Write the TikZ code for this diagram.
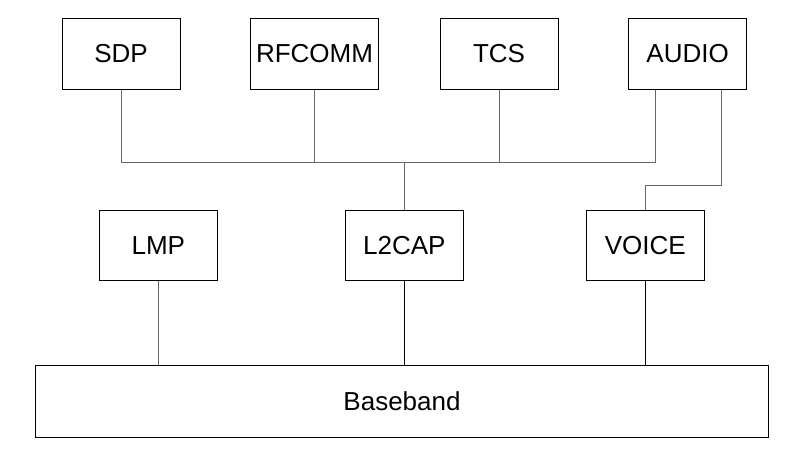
\documentclass[tikz,border=0pt]{standalone}
\usepackage{fontspec}
\setmainfont{Liberation Sans}
\usetikzlibrary{calc}
\tikzset{
  layer/.style={draw,line width=1pt,rectangle,inner sep=0pt,
    minimum width=118pt,minimum height=70.5pt,
    font=\fontsize{26}{30}\selectfont},
  wire/.style={draw=black!60,line width=1pt},
  link/.style={draw=black,line width=1pt}
}

\begin{document}
\begin{tikzpicture}[x=1pt,y=-1pt]
    \useasboundingbox (0,0) rectangle (809,470);
    % Upper layers
    \node[layer] (sdp)    at (121,53.8)   {SDP};
    \node[layer,minimum width=128pt] (rfcomm) at (314.5,53.8) {RFCOMM};
    \node[layer] (tcs)    at (499,53.8)   {TCS};
    \node[layer] (audio)  at (687.6,53.8) {AUDIO};
    % Middle layers
    \node[layer] (lmp)    at (158.3,245.7) {LMP};
    \node[layer] (ltcap)  at (404.3,245.7) {L2CAP};
    \node[layer] (voice)  at (645.3,245.7) {VOICE};
    % Baseband
    \node[layer,minimum width=733.4pt,minimum height=71.3pt]
      (base) at (402,401.6) {Baseband};
    % Bus
    \coordinate (hub)  at (404.3,162.7);
    \coordinate (bend) at (645.3,186);
    \draw[wire] (sdp.south) |- (hub) -- (ltcap.north);
    \draw[wire] (rfcomm.south) -- (rfcomm.south |- hub);
    \draw[wire] (tcs.south) -- (tcs.south |- hub);
    \draw[wire] (hub) -| ($(audio.south)+(-32.6,0)$);
    \draw[wire] ($(audio.south)+(33.4,0)$) |- (bend) -- (voice.north);
    % Down to baseband
    \draw[wire] (lmp.south) -- (lmp.south |- base.north);
    \draw[link] (ltcap.south) -- (ltcap.south |- base.north);
    \draw[link] (voice.south) -- (voice.south |- base.north);
  \end{tikzpicture}
\end{document}
